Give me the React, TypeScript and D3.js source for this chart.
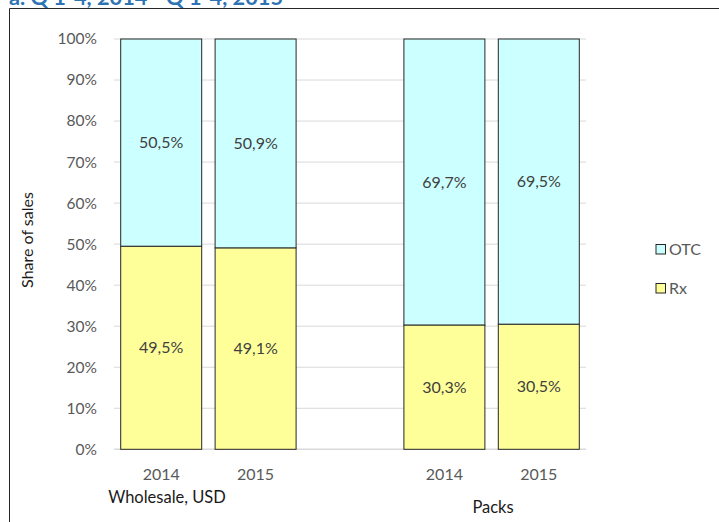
import React from "react";
import * as d3 from "d3";

const slots = ["w2014", "w2015", "gap", "p2014", "p2015"];
const barSlots = ["w2014", "w2015", "p2014", "p2015"];
const yearLabels = ["2014", "2015", "2014", "2015"];
const rxValues = [49.5, 49.1, 30.3, 30.5];
const otcValues = [50.5, 50.9, 69.7, 69.5];
const yTicks = [0, 10, 20, 30, 40, 50, 60, 70, 80, 90, 100];
const groupLabels = ["Wholesale, USD", "Packs"];
const seriesNames = ["OTC", "Rx"];
const seriesColors = ["#CCFFFF", "#FFFF99"];

const fmt = (v: number) => v.toFixed(1).replace(".", ",") + "%";

export default function App() {
  const W = 719, H = 522;
  const left = 114, right = 586, top = 39, bottom = 449.3;
  const x = d3.scaleBand().domain(slots).range([left, right]).paddingInner(0.142).paddingOuter(0.071);
  const y = d3.scaleLinear().domain([0, 100]).range([bottom, top]);
  const font = "Lato, 'Open Sans', sans-serif";
  return (
    <svg width={W} height={H} style={{ position: "absolute", left: 0, top: 0 }} fontFamily={font}>
      <rect x={0} y={0} width={W} height={H} fill="#fff" />
      <text x={9} y={5} fill="#2E74B5" fontWeight="bold" fontSize={20} textLength={274} lengthAdjust="spacingAndGlyphs">a. Q 1-4, 2014 - Q 1-4, 2015</text>
      <line x1={9.5} y1={8.5} x2={W} y2={8.5} stroke="#262626" strokeWidth={1} />
      <line x1={9.5} y1={8.5} x2={9.5} y2={H} stroke="#262626" strokeWidth={1} />
      {yTicks.map((t) => (
        <g key={t}>
          <line x1={left} x2={right} y1={y(t)} y2={y(t)} stroke="#d9d9d9" strokeWidth={t === 0 ? 1.5 : 1} />
          <text x={97} y={y(t)} dy="0.35em" textAnchor="end" fontSize={15.5} fill="#595959">{t}%</text>
        </g>
      ))}
      {barSlots.map((s, i) => {
        const bx = x(s)!;
        const bw = x.bandwidth();
        return (
          <g key={s}>
            <rect x={bx} y={y(rxValues[i])} width={bw} height={y(0) - y(rxValues[i])} fill={seriesColors[1]} stroke="#262626" strokeWidth={1} />
            <rect x={bx} y={y(100)} width={bw} height={y(rxValues[i]) - y(100)} fill={seriesColors[0]} stroke="#262626" strokeWidth={1} />
            <text x={bx + bw / 2} y={(y(rxValues[i]) + y(100)) / 2} dy="0.35em" textAnchor="middle" fontSize={16} fill="#404040">{fmt(otcValues[i])}</text>
            <text x={bx + bw / 2} y={(y(0) + y(rxValues[i])) / 2} dy="0.35em" textAnchor="middle" fontSize={16} fill="#404040">{fmt(rxValues[i])}</text>
            <text x={bx + bw / 2} y={480} textAnchor="middle" fontSize={16} fill="#595959">{yearLabels[i]}</text>
          </g>
        );
      })}
      <text x={167} y={503} textAnchor="middle" fontSize={16.5} fill="#1a1a1a">{groupLabels[0]}</text>
      <text x={493} y={513} textAnchor="middle" fontSize={16.5} fill="#1a1a1a">{groupLabels[1]}</text>
      <text transform={`translate(33,240) rotate(-90)`} textAnchor="middle" fontSize={16} fill="#1a1a1a">Share of sales</text>
      {seriesNames.map((n, i) => (
        <g key={n}>
          <rect x={656} y={244.5 + i * 39} width={9.5} height={9.5} fill={seriesColors[i]} stroke="#262626" strokeWidth={1} />
          <text x={669} y={249 + i * 39} dy="0.35em" fontSize={16} fill="#595959">{n}</text>
        </g>
      ))}
    </svg>
  );
}
